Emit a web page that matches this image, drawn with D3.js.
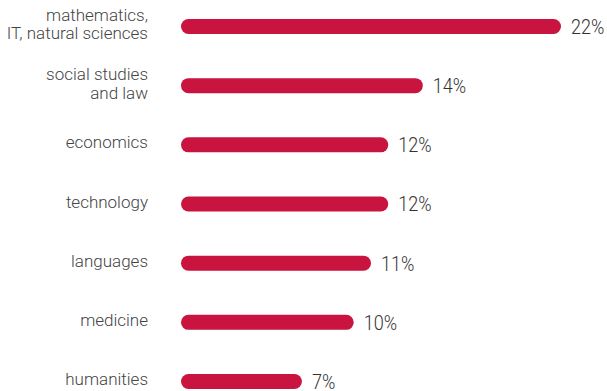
<!DOCTYPE html>
<html>
<head>
<meta charset="utf-8">
<script src="https://cdn.jsdelivr.net/npm/d3@7"></script>
<style>
  html, body { margin: 0; padding: 0; background: #fff; }
  svg { display: block; }
</style>
</head>
<body>
<svg id="chart" width="607" height="391"></svg>
<script>
// Share of students by field of study
const categories = [
  ["mathematics,", "IT, natural sciences"],
  ["social studies", "and law"],
  ["economics"],
  ["technology"],
  ["languages"],
  ["medicine"],
  ["humanities"]
];
const values = [22, 14, 12, 12, 11, 10, 7];
const valueLabels = ["22%", "14%", "12%", "12%", "11%", "10%", "7%"];

const svg = d3.select("#chart");
const barLeft = 181;
const barH = 15;
const labelRight = 148;

const x = d3.scaleLinear().domain([0, 22]).range([barLeft, 561]);
const y = d3.scalePoint()
  .domain(d3.range(values.length))
  .range([26.5, 381.5]);

const rows = svg.selectAll("g.row")
  .data(values)
  .join("g")
  .attr("class", "row")
  .attr("transform", (d, i) => `translate(0,${y(i)})`);

rows.append("rect")
  .attr("x", barLeft)
  .attr("y", -barH / 2)
  .attr("width", d => x(d) - barLeft)
  .attr("height", barH)
  .attr("rx", barH / 2)
  .attr("ry", barH / 2)
  .attr("fill", "#c8143f");

// value labels: tall, narrow figures
rows.append("text")
  .attr("transform", d => `translate(${x(d) + 10},0) scale(0.86,1)`)
  .attr("dy", "0.35em")
  .attr("font-family", "Roboto, sans-serif")
  .attr("font-weight", 300)
  .attr("font-size", 21)
  .attr("fill", "#333")
  .text((d, i) => valueLabels[i]);

rows.each(function (d, i) {
  const lines = categories[i];
  const lh = 18.5;
  const t = d3.select(this).append("text")
    .attr("text-anchor", "end")
    .attr("font-family", "Roboto, sans-serif")
    .attr("font-weight", 300)
    .attr("font-size", 17)
    .attr("fill", "#444");
  lines.forEach((line, k) => {
    t.append("tspan")
      .attr("x", labelRight)
      .attr("y", (k - (lines.length - 1) / 2) * lh - 2.5)
      .attr("dy", "0.36em")
      .text(line);
  });
});
</script>
</body>
</html>
